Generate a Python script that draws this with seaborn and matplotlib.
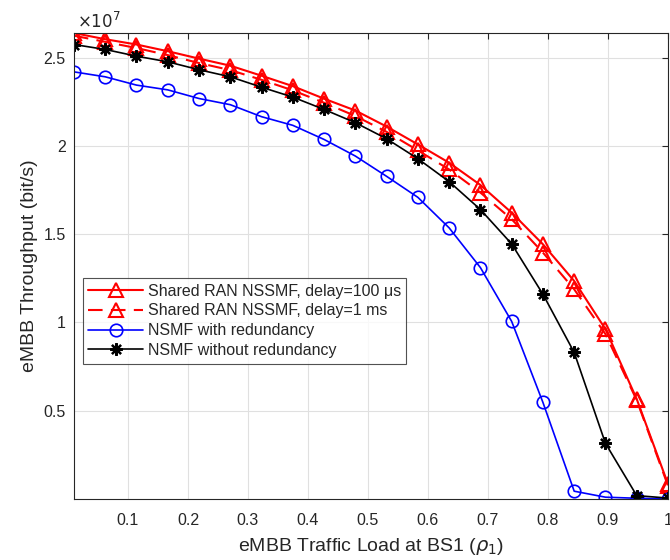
import numpy as np
import pandas as pd
import matplotlib
matplotlib.use('Agg')
import matplotlib.pyplot as plt
from matplotlib.ticker import FuncFormatter
import seaborn as sns

# traffic load points
load = np.linspace(0.01, 1, 20)

# throughput in units of 1e7 bit/s
shared_100us = [2.640, 2.605, 2.575, 2.537, 2.495, 2.455, 2.398, 2.339, 2.268, 2.201,
                2.110, 2.009, 1.905, 1.779, 1.622, 1.443, 1.235, 0.962, 0.566, 0.085]
shared_1ms = [2.625, 2.590, 2.555, 2.515, 2.470, 2.430, 2.375, 2.315, 2.245, 2.170,
              2.080, 1.975, 1.867, 1.736, 1.585, 1.396, 1.188, 0.934, 0.560, 0.075]
with_red = [2.420, 2.392, 2.345, 2.318, 2.269, 2.234, 2.166, 2.117, 2.037, 1.943,
            1.828, 1.709, 1.536, 1.311, 1.006, 0.547, 0.044, 0.010, 0.004, 0.000]
without_red = [2.575, 2.547, 2.509, 2.477, 2.432, 2.392, 2.333, 2.277, 2.207, 2.132,
               2.041, 1.928, 1.798, 1.640, 1.445, 1.160, 0.830, 0.315, 0.019, 0.005]

labels = ['Shared RAN NSSMF, delay=100 \u03bcs', 'Shared RAN NSSMF, delay=1 ms',
          'NSMF with redundancy', 'NSMF without redundancy']

sns.set_theme(style='white')
plt.rcParams['font.family'] = ['Liberation Sans', 'DejaVu Sans']

fig = plt.figure(figsize=(6.7, 5.6), dpi=100)
ax = fig.add_axes([0.1104, 0.109, 0.8866, 0.832])

ink = '#262626'

sns.lineplot(x=load, y=shared_100us, ax=ax, color='red', lw=1.5, marker='^', ms=10,
             mfc='none', mec='red', mew=1.5, label=labels[0])
sns.lineplot(x=load, y=shared_1ms, ax=ax, color='red', lw=1.5, marker='^', ms=10,
             mfc='none', mec='red', mew=1.5, label=labels[1])
ax.lines[-1].set_dashes([7, 4])
sns.lineplot(x=load, y=with_red, ax=ax, color='blue', lw=1.2, marker='o', ms=9,
             mfc='none', mec='blue', mew=1.2, label=labels[2])
sns.lineplot(x=load, y=without_red, ax=ax, color='black', lw=1.2, marker=(8, 2, 0), ms=9,
             mec='black', mew=1.6, label=labels[3])

allv = shared_100us + shared_1ms + with_red + without_red
ax.set_xlim(0.01, 1)
ax.set_ylim(min(allv), max(allv))

ax.set_xticks(np.arange(0.1, 1.01, 0.1))
ax.set_yticks([0.5, 1, 1.5, 2, 2.5])
fmt = FuncFormatter(lambda v, p: '%g' % round(v, 2))
ax.xaxis.set_major_formatter(fmt)
ax.yaxis.set_major_formatter(fmt)
ax.tick_params(direction='in', length=4, width=0.8, colors=ink, labelsize=11.5,
               top=True, right=True, labelcolor=ink)
ax.tick_params(axis='x', pad=10)
ax.tick_params(axis='y', pad=6)
ax.grid(True, color='#e0e0e0', lw=0.8)
for s in ax.spines.values():
    s.set_color(ink)
    s.set_linewidth(0.8)

ax.set_xlabel(r'eMBB Traffic Load at BS1 ($\rho_1$)', fontsize=14, color=ink, labelpad=6)
ax.set_ylabel('eMBB Throughput (bit/s)', fontsize=14, color=ink, labelpad=4)
ax.text(0.005, 1.005, r'$\times10^7$', transform=ax.transAxes, fontsize=12, color=ink,
        ha='left', va='bottom')

leg = ax.legend(loc='upper left', bbox_to_anchor=(0.015, 0.474), borderaxespad=0,
                fontsize=11.5, handlelength=3.4, handletextpad=0.3, labelspacing=0.3,
                frameon=True, fancybox=False, edgecolor=ink, borderpad=0.35)
leg.get_frame().set_linewidth(0.8)

fig.savefig('out.png', dpi=100, facecolor='white')
